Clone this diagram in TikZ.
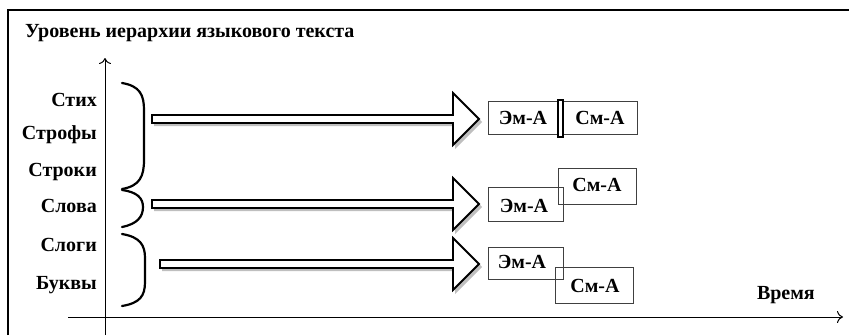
\documentclass[tikz,border=0pt]{standalone}
\usepackage{fontspec}
\setmainfont{Liberation Serif}
\usetikzlibrary{arrows.meta}
\begin{document}
\begin{tikzpicture}[x=1pt,y=-1pt,
  lvl/.style={font=\bfseries\fontsize{20}{22}\selectfont, anchor=east, inner sep=0pt},
  lab/.style={font=\bfseries\fontsize{20}{22}\selectfont, inner sep=0pt},
  unit/.style={draw=black!75, line width=0.8pt},
  brace/.style={line width=2.2pt, line cap=round},
  axis/.style={line width=1pt, -{To[length=6pt,width=12pt,line width=1pt]}},
  blockarrow/.style={draw=black, line width=1.8pt, fill=white, line join=miter},
  blockshadow/.style={fill=black, opacity=0.25}]
\useasboundingbox (0,0) rectangle (849,335);

% frame
\draw[line width=2pt] (8,335) -- (8,10) -- (849,10);

% title
\node[lab, anchor=west] (title) at (25,33) {Уровень иерархии языкового текста};

% axes
\coordinate (yfoot) at (105,335);
\coordinate (ytop) at (105,58);
\coordinate (xfoot) at (68,317);
\coordinate (xtip) at (843,317);
\draw[axis] (yfoot) -- (ytop);
\draw[axis] (xfoot) -- (xtip);
\node[lab, anchor=east] (time) at (815,295) {Время};

% levels
\node[lvl] (stih)   at (97,100) {Стих};
\node[lvl] (strofy) at (97,135) {Строфы};
\node[lvl] (stroki) at (97,172) {Строки};
\node[lvl] (slova)  at (97,206) {Слова};
\node[lvl] (slogi)  at (97,245) {Слоги};
\node[lvl] (bukvy)  at (97,285) {Буквы};

% braces
\draw[brace] (122,83) .. controls (140,86) and (144,95) .. (144,110)
  -- (144,160) .. controls (144,176) and (140,186) .. (122,189);
\draw[brace] (122,190) .. controls (137,192) and (143,198) .. (143,207)
  .. controls (143,217) and (137,224) .. (122,227);
\draw[brace] (122,234) .. controls (140,237) and (145,245) .. (145,258)
  -- (145,282) .. controls (145,296) and (140,303) .. (122,306);

% block arrows
\foreach \x/\c in {152/119, 152/204, 160/264}{
  \fill[blockshadow] (\x+2,\c-2) -- (455,\c-2) -- (455,\c-24) -- (482,\c+3)
    -- (455,\c+30) -- (455,\c+7) -- (\x+2,\c+7) -- cycle;
  \draw[blockarrow] (\x,\c-4) -- (453,\c-4) -- (453,\c-26) -- (479,\c)
    -- (453,\c+26) -- (453,\c+4) -- (\x,\c+4) -- cycle;
}

% row 1: units follow one another
\draw[unit] (488,101) rectangle (558,134);
\draw[unit] (563,101) rectangle (637,134);
\draw[line width=1.2pt] (558,100) rectangle (563,137);
\node[lab] (em1) at (523,118) {Эм-А};
\node[lab] (sm1) at (600,118) {См-А};

% row 2: overlap
\draw[unit] (558,168) rectangle (636,204);
\draw[unit] (488,187) rectangle (563,221);
\node[lab] (sm2) at (597,185) {См-А};
\node[lab] (em2) at (524,206) {Эм-А};

% row 3: overlap
\draw[unit] (488,247) rectangle (563,279);
\draw[unit] (555,267) rectangle (633,303);
\node[lab] (em3) at (522,262) {Эм-А};
\node[lab] (sm3) at (595,286) {См-А};
\end{tikzpicture}
\end{document}
